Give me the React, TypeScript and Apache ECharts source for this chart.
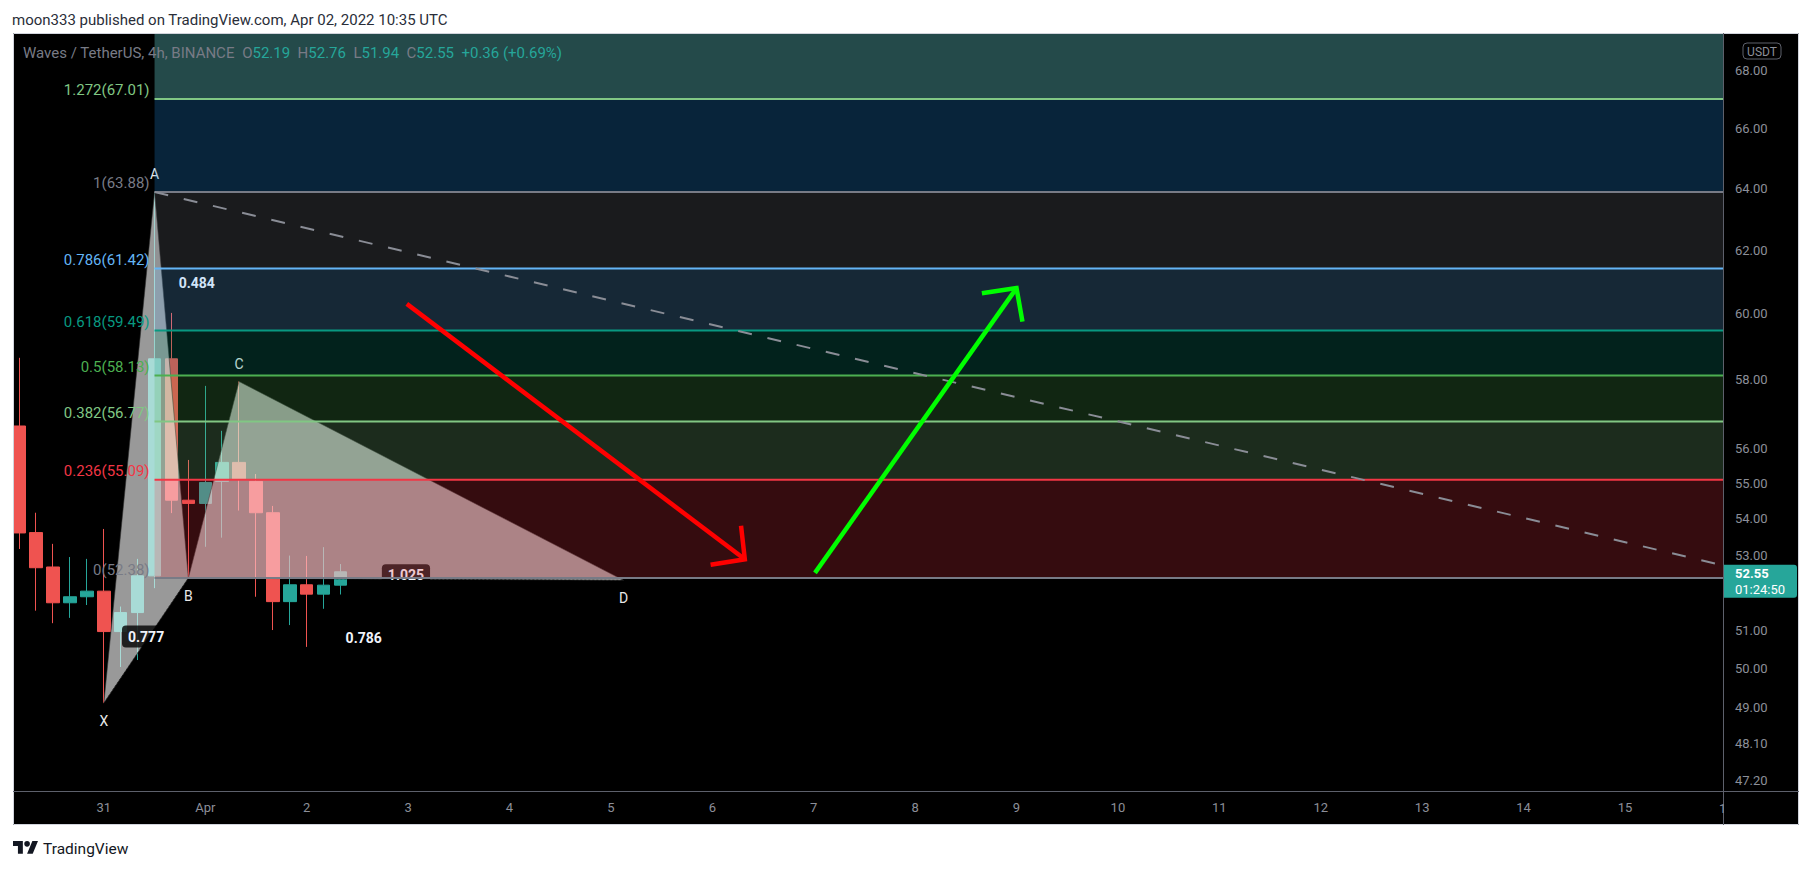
import React, { useEffect, useRef } from 'react';
import * as echarts from 'echarts';

// ---------------- data ----------------
const publishedText = 'moon333 published on TradingView.com, Apr 02, 2022 10:35 UTC';
const symbolTitle = 'Waves / TetherUS, 4h, BINANCE';
const currencyLabel = 'USDT';
const countdownText = '01:24:50';
const brandText = 'TradingView';

const candleTimes = [
  '2022-03-30T04:00:00Z', '2022-03-30T08:00:00Z', '2022-03-30T12:00:00Z', '2022-03-30T16:00:00Z', '2022-03-30T20:00:00Z',
  '2022-03-31T00:00:00Z', '2022-03-31T04:00:00Z', '2022-03-31T08:00:00Z', '2022-03-31T12:00:00Z', '2022-03-31T16:00:00Z',
  '2022-03-31T20:00:00Z', '2022-04-01T00:00:00Z', '2022-04-01T04:00:00Z', '2022-04-01T08:00:00Z', '2022-04-01T12:00:00Z',
  '2022-04-01T16:00:00Z', '2022-04-01T20:00:00Z', '2022-04-02T00:00:00Z', '2022-04-02T04:00:00Z', '2022-04-02T08:00:00Z',
];
const opens = [56.64, 53.62, 52.68, 51.72, 51.88, 52.03, 50.96, 51.46, 52.44, 58.63, 54.52, 54.43, 55.05, 55.59, 55.05, 54.17, 51.75, 52.2, 51.95, 52.19];
const closes = [53.61, 52.66, 51.72, 51.88, 52.03, 50.96, 51.46, 52.44, 58.63, 54.52, 54.43, 55.02, 55.59, 55.12, 54.17, 51.75, 52.2, 51.95, 52.19, 52.55];
const lows = [53.17, 51.51, 51.18, 51.32, 51.66, 49.12, 50.04, 50.22, 52.11, 54.16, 52.38, 53.23, 53.48, 54.23, 51.88, 51.0, 51.13, 50.56, 51.56, 51.94];
const highs = [58.66, 54.17, 53.31, 52.95, 52.9, 53.72, 51.62, 52.9, 63.88, 60.03, 55.66, 57.82, 56.5, 57.95, 55.26, 54.36, 52.99, 52.98, 53.22, 52.76];

const xRange = ['2022-03-30T02:30:00Z', '2022-04-15T23:12:00Z'];
const yRange = [46.95, 69.32];

const xTickDates = ['2022-03-31', '2022-04-01', '2022-04-02', '2022-04-03', '2022-04-04', '2022-04-05', '2022-04-06', '2022-04-07',
  '2022-04-08', '2022-04-09', '2022-04-10', '2022-04-11', '2022-04-12', '2022-04-13', '2022-04-14', '2022-04-15'];
const xTickLabels = ['31', 'Apr', '2', '3', '4', '5', '6', '7', '8', '9', '10', '11', '12', '13', '14', '15'];
const xClippedTickDate = '2022-04-16';
const xClippedTickLabel = '16';
const yTickValues = [68, 66, 64, 62, 60, 58, 56, 55, 54, 53, 51, 50, 49, 48.1, 47.2];

// Fibonacci retracement (B -> A), extended right
const fibStartTime = '2022-03-31T12:00:00Z';
const fibHigh = 63.88;
const fibLow = 52.38;
const fibLevels = [0, 0.236, 0.382, 0.5, 0.618, 0.786, 1, 1.272, 1.618];
const fibLineColors = ['#787b86', '#f23645', '#81c784', '#4caf50', '#089981', '#64b5f6', '#787b86', '#81c784', '#2962ff'];
const fibZoneColors = [
  'rgba(242,54,69,0.22)', 'rgba(129,199,132,0.22)', 'rgba(76,175,80,0.22)', 'rgba(8,153,129,0.22)',
  'rgba(100,181,246,0.22)', 'rgba(120,123,134,0.22)', 'rgba(33,150,243,0.24)', 'rgba(36,74,74,1)',
];

// XABCD pattern
const patternNames = ['X', 'A', 'B', 'C', 'D'];
const patternTimes = ['2022-03-31T00:00:00Z', '2022-03-31T12:00:00Z', '2022-03-31T20:00:00Z', '2022-04-01T08:00:00Z', '2022-04-05T03:00:00Z'];
const patternPrices = [49.12, 63.88, 52.38, 57.95, 52.32];
const patternLabelSide = [1, -1, 1, -1, 1];
const patternTriangles = [[0, 1, 2], [2, 3, 4]];
const ratioPairs = [[0, 2], [1, 3], [2, 4], [0, 4]];
const ratioLabels = ['0.777', '0.484', '1.025', '0.786'];

// dashed trend line
const trendTimes = ['2022-03-31T12:00:00Z', '2022-04-16T00:00:00Z'];
const trendPrices = [63.88, 52.7];

// arrows
const redShaftTimes = ['2022-04-02T23:42:00Z', '2022-04-06T07:42:00Z'];
const redShaftPrices = [60.31, 52.89];
const redHeadTimes = ['2022-04-06T06:48:00Z', '2022-04-06T07:42:00Z', '2022-04-05T23:36:00Z'];
const redHeadPrices = [53.81, 52.89, 52.74];
const greenShaftTimes = ['2022-04-07T00:18:00Z', '2022-04-09T00:00:00Z'];
const greenShaftPrices = [52.52, 60.8];
const greenHeadTimes = ['2022-04-08T15:48:00Z', '2022-04-09T00:00:00Z', '2022-04-09T01:24:00Z'];
const greenHeadPrices = [60.64, 60.8, 59.76];

// ---------------- helpers ----------------
const ORIGIN = Date.parse('2022-04-01T00:00:00Z');
const toH = (s: string) => (Date.parse(s) - ORIGIN) / 3600000;
const L = Math.log;
const fibPrice = (lv: number) => fibLow + lv * (fibHigh - fibLow);
const FONT = 'Roboto, "Noto Sans", sans-serif';
const AXIS_TEXT = '#8c8f99';
const UP = '#26a69a';
const DOWN = '#ef5350';

const W = 1813;
const H = 870;
const GL = 13, GT = 33, GR = 1723, GB = 791, PR = 1799, PB = 825;

const pts = (times: string[], prices: number[]) => times.map((t, i) => [toH(t), L(prices[i])]);

const last = closes.length - 1;

function buildOption() {
  const fibStartH = toH(fibStartTime);
  const xTickH = xTickDates.map((d) => toH(d + 'T00:00:00Z'));
  const ph = patternTimes.map(toH);
  const pp = patternPrices.map(L);

  return {
    animation: false,
    backgroundColor: '#000000',
    textStyle: { fontFamily: FONT },
    grid: { left: GL, right: W - GR, top: GT, bottom: H - GB, containLabel: false },
    xAxis: {
      type: 'value',
      min: toH(xRange[0]),
      max: toH(xRange[1]),
      axisLine: { show: false },
      axisTick: { show: false },
      splitLine: { show: false },
      axisLabel: {
        customValues: xTickH,
        formatter: (v: number) => {
          const i = xTickH.findIndex((h) => Math.abs(h - v) < 1e-6);
          return i >= 0 ? xTickLabels[i] : '';
        },
        color: AXIS_TEXT,
        fontSize: 13,
        fontFamily: FONT,
        margin: 10,
      },
    },
    yAxis: {
      type: 'value',
      position: 'right',
      min: L(yRange[0]),
      max: L(yRange[1]),
      axisLine: { show: false },
      axisTick: { show: false },
      splitLine: { show: false },
      axisLabel: {
        customValues: yTickValues.map(L),
        formatter: (v: number) => Math.exp(v).toFixed(2),
        color: AXIS_TEXT,
        fontSize: 13,
        fontFamily: FONT,
        margin: 12,
      },
    },
    series: [
      {
        type: 'candlestick',
        z: 2,
        silent: true,
        dimensions: ['t', 'open', 'close', 'lowest', 'highest'],
        encode: { x: 't', y: ['open', 'close', 'lowest', 'highest'] },
        data: candleTimes.map((t, i) => [toH(t), L(opens[i]), L(closes[i]), L(lows[i]), L(highs[i])]),
        barWidth: 13,
        itemStyle: { color: UP, color0: DOWN, borderColor: UP, borderColor0: DOWN, borderWidth: 1 },
      },
      // XABCD triangles
      {
        type: 'custom',
        z: 3,
        silent: true,
        data: patternTriangles.map((tri) => [ph[tri[0]], pp[tri[0]], ph[tri[1]], pp[tri[1]], ph[tri[2]], pp[tri[2]]]),
        renderItem: (params: any, api: any) => {
          const points = [0, 1, 2].map((k) => api.coord([api.value(2 * k), api.value(2 * k + 1)]));
          return {
            type: 'polygon',
            shape: { points },
            style: { fill: 'rgba(255,255,255,0.6)', stroke: 'rgba(45,45,45,0.55)', lineWidth: 1 },
          };
        },
      },
      // XABCD connector lines + labels
      {
        type: 'custom',
        z: 4,
        silent: true,
        data: [[ph[0], pp[0]]],
        renderItem: (params: any, api: any) => {
          const c = ph.map((h, i) => api.coord([h, pp[i]]));
          const children: any[] = [];
          ratioPairs.forEach(([a, b], k) => {
            children.push({
              type: 'line',
              shape: { x1: c[a][0], y1: c[a][1], x2: c[b][0], y2: c[b][1] },
              style: { stroke: 'rgba(0,0,0,0.45)', lineWidth: 1, lineDash: [2, 2] },
            });
            const mh = (ph[a] + ph[b]) / 2;
            const mp = (pp[a] + pp[b]) / 2;
            const m = api.coord([mh, mp]);
            children.push({
              type: 'text',
              style: {
                text: ratioLabels[k], x: m[0], y: m[1] - 4, align: 'center', verticalAlign: 'middle',
                fill: '#f0f3fa', fontSize: 14, fontWeight: 'bold', fontFamily: FONT,
                backgroundColor: 'rgba(0,0,0,0.8)', padding: [4, 6, 4, 6], borderRadius: 4,
              },
            });
          });
          patternNames.forEach((n, i) => {
            children.push({
              type: 'text',
              style: {
                text: n, x: c[i][0], y: c[i][1] + patternLabelSide[i] * 18, align: 'center', verticalAlign: 'middle',
                fill: '#e8e8e8', fontSize: 14, fontFamily: FONT,
              },
            });
          });
          return { type: 'group', children };
        },
      },
      // Fib zones
      {
        type: 'custom',
        z: 5,
        silent: true,
        data: fibZoneColors.map((_, i) => [fibStartH, L(fibPrice(fibLevels[i])), i]),
        renderItem: (params: any, api: any) => {
          const i = api.value(2);
          const cs = params.coordSys;
          const pLo = api.coord([fibStartH, L(fibPrice(fibLevels[i]))]);
          const pHi = api.coord([fibStartH, L(fibPrice(fibLevels[i + 1]))]);
          const yTop = Math.max(pHi[1], cs.y);
          const yBot = Math.min(pLo[1], cs.y + cs.height);
          if (yBot <= yTop) return null;
          return {
            type: 'rect',
            shape: { x: pLo[0], y: yTop, width: cs.x + cs.width - pLo[0], height: yBot - yTop },
            style: { fill: fibZoneColors[i] },
          };
        },
      },
      // Fib lines + labels
      {
        type: 'custom',
        z: 6,
        silent: true,
        data: fibLevels.slice(0, 8).map((lv, i) => [fibStartH, L(fibPrice(lv)), i]),
        renderItem: (params: any, api: any) => {
          const i = api.value(2);
          const cs = params.coordSys;
          const price = fibPrice(fibLevels[i]);
          const p = api.coord([fibStartH, L(price)]);
          return {
            type: 'group',
            children: [
              {
                type: 'line',
                shape: { x1: p[0], y1: p[1], x2: cs.x + cs.width, y2: p[1] },
                style: { stroke: fibLineColors[i], lineWidth: 2 },
              },
              {
                type: 'text',
                style: {
                  text: `${fibLevels[i]}(${price.toFixed(2)})`, x: p[0] - 5, y: p[1] - 1,
                  align: 'right', verticalAlign: 'bottom', fill: fibLineColors[i], fontSize: 15, fontFamily: FONT,
                },
              },
            ],
          };
        },
      },
      // dashed trend line
      {
        type: 'line',
        z: 7,
        silent: true,
        data: pts(trendTimes, trendPrices),
        symbol: 'none',
        lineStyle: { color: '#8a8d96', width: 2, type: [14, 16] },
      },
      // arrows
      {
        type: 'lines',
        coordinateSystem: 'cartesian2d',
        polyline: true,
        z: 8,
        silent: true,
        data: [
          { coords: pts(redShaftTimes, redShaftPrices), lineStyle: { color: '#ff0000' } },
          { coords: pts(redHeadTimes, redHeadPrices), lineStyle: { color: '#ff0000' } },
          { coords: pts(greenShaftTimes, greenShaftPrices), lineStyle: { color: '#00ff00' } },
          { coords: pts(greenHeadTimes, greenHeadPrices), lineStyle: { color: '#00ff00' } },
        ],
        lineStyle: { width: 4.5, opacity: 1, join: 'miter', cap: 'butt' },
      },
    ],
  };
}

const logoD = 'M14 22H7V11H0V4h14v18zM28 22h-8l7.5-18h8L28 22zM20 12a4 4 0 1 0 0-8 4 4 0 0 0 0 8z';
let logoRegistered = false;

export default function App() {
  const ref = useRef<HTMLDivElement>(null);
  useEffect(() => {
    if (!ref.current) return;
    const chart = echarts.init(ref.current, undefined, { renderer: 'svg' });
    chart.setOption(buildOption() as any);

    const py = chart.convertToPixel({ yAxisIndex: 0 }, L(closes[last])) as number;
    const x16 = chart.convertToPixel({ xAxisIndex: 0 }, toH(xClippedTickDate + 'T00:00:00Z')) as number;
    const chg = closes[last] - closes[last - 1];
    const pct = (chg / closes[last - 1]) * 100;
    const sign = chg >= 0 ? '+' : '-';

    const graphics: any[] = [
      { type: 'rect', z: 50, shape: { x: 0, y: 0, width: W, height: GT }, style: { fill: '#ffffff' } },
      { type: 'rect', z: 50, shape: { x: 0, y: 0, width: GL, height: H }, style: { fill: '#ffffff' } },
      { type: 'rect', z: 50, shape: { x: PR, y: 0, width: W - PR, height: H }, style: { fill: '#ffffff' } },
      { type: 'rect', z: 50, shape: { x: 0, y: PB, width: W, height: H - PB }, style: { fill: '#ffffff' } },
      { type: 'rect', z: 51, shape: { x: GL + 0.5, y: GT + 0.5, width: PR - GL - 1, height: PB - GT - 1 }, style: { fill: 'none', stroke: '#d1d4dc', lineWidth: 1 } },
      { type: 'line', z: 51, shape: { x1: GL, y1: GB + 0.5, x2: PR, y2: GB + 0.5 }, style: { stroke: '#5d606b', lineWidth: 1 } },
      { type: 'line', z: 51, shape: { x1: GR + 0.5, y1: GT, x2: GR + 0.5, y2: PB }, style: { stroke: '#5d606b', lineWidth: 1 } },
      // clipped last day label
      { type: 'text', z: 52, x: x16, y: GB + 17, style: { text: xClippedTickLabel, align: 'center', verticalAlign: 'middle', fill: AXIS_TEXT, fontSize: 13, fontFamily: FONT } },
      { type: 'rect', z: 53, shape: { x: GR + 1, y: GB + 1, width: PR - GR - 2, height: PB - GB - 2 }, style: { fill: '#000000' } },
      // headers
      { type: 'text', z: 52, x: 12, y: 20, style: { text: publishedText, verticalAlign: 'middle', fill: '#2a2e39', fontSize: 15, fontFamily: FONT } },
      {
        type: 'text', z: 52, x: 23, y: 53,
        style: {
          text: `{g|${symbolTitle}}  {g|O}{v|${opens[last].toFixed(2)}}  {g|H}{v|${highs[last].toFixed(2)}}  {g|L}{v|${lows[last].toFixed(2)}}  {g|C}{v|${closes[last].toFixed(2)}}  {v|${sign}${Math.abs(chg).toFixed(2)} (${sign}${Math.abs(pct).toFixed(2)}%)}`,
          verticalAlign: 'middle', fontSize: 15, fontFamily: FONT,
          rich: {
            g: { fill: '#787b86', fontSize: 15, fontFamily: FONT },
            v: { fill: UP, fontSize: 15, fontFamily: FONT },
          },
        },
      },
      // currency box
      { type: 'rect', z: 52, shape: { x: 1743, y: 43, width: 38, height: 16, r: 4 }, style: { fill: 'none', stroke: '#5d606b', lineWidth: 1 } },
      { type: 'text', z: 52, x: 1762, y: 51.5, style: { text: currencyLabel, align: 'center', verticalAlign: 'middle', fill: '#8c8f99', fontSize: 12, fontFamily: FONT } },
      // price tag
      { type: 'rect', z: 52, shape: { x: GR + 1, y: py - 7, width: 73, height: 33, r: [0, 3, 3, 0] }, style: { fill: UP } },
      { type: 'text', z: 53, x: 1735, y: py + 2, style: { text: closes[last].toFixed(2), verticalAlign: 'middle', fill: '#ffffff', fontSize: 13, fontWeight: 'bold', fontFamily: FONT } },
      { type: 'text', z: 53, x: 1735, y: py + 18, style: { text: countdownText, verticalAlign: 'middle', fill: '#ffffff', fontSize: 13, fontFamily: FONT } },
      // brand
      { type: 'text', z: 52, x: 43, y: 849, style: { text: brandText, verticalAlign: 'middle', fill: '#131722', fontSize: 15.5, fontFamily: FONT } },
    ];

    try {
      if (!logoRegistered) {
        echarts.graphic.registerShape('tvlogo', echarts.graphic.extendPath(logoD, {}) as any);
        logoRegistered = true;
      }
      graphics.push({ type: 'tvlogo', z: 52, x: 13, y: 838.2, scaleX: 0.704, scaleY: 0.704, style: { fill: '#131722' } });
    } catch (e) {
      // ignore
    }

    chart.setOption({ graphic: graphics } as any);
    return () => chart.dispose();
  }, []);
  return <div ref={ref} style={{ position: 'absolute', left: 0, top: 0, width: W, height: H }} />;
}
